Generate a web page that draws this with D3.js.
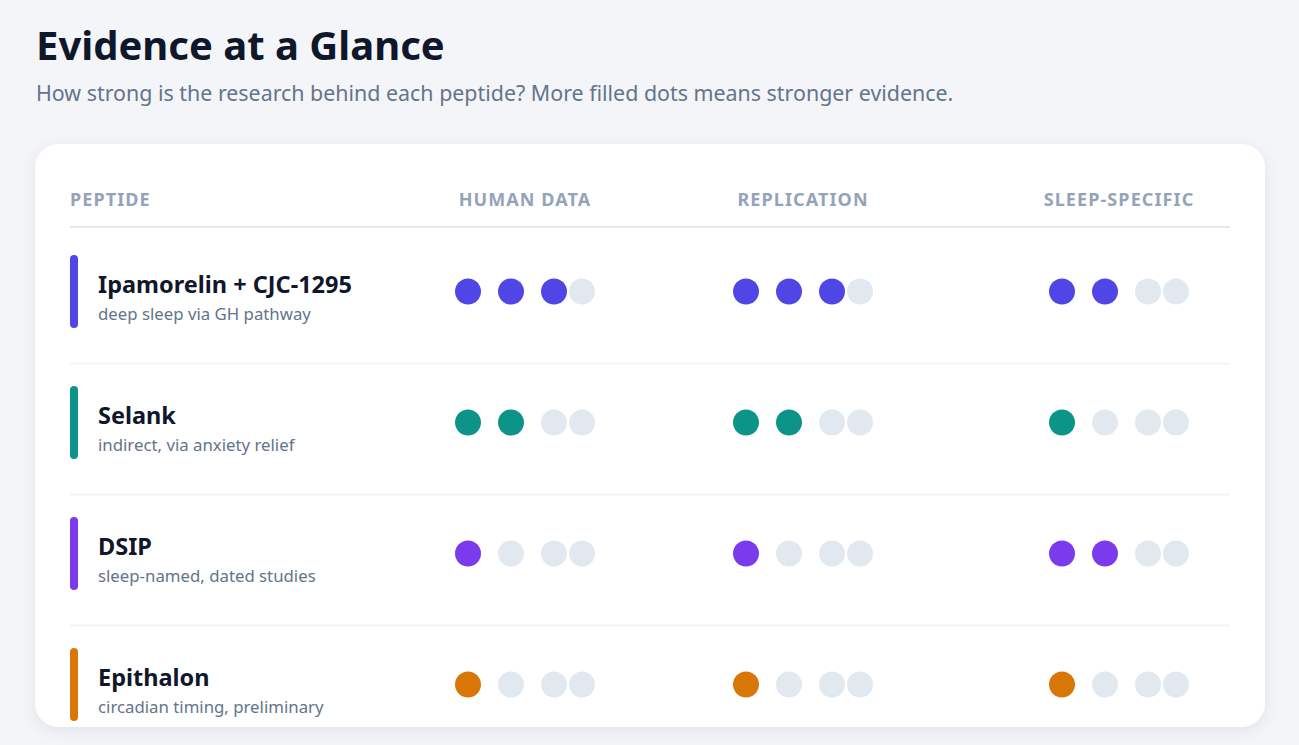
<!DOCTYPE html>
<html>
<head>
<meta charset="utf-8">
<script src="https://cdn.jsdelivr.net/npm/d3@7"></script>
<style>
  html, body { margin: 0; padding: 0; background: #f4f5f9; }
  svg { display: block; font-family: "Segoe UI", "Noto Sans", "Open Sans", sans-serif; }
</style>
</head>
<body>
<div class="canvas"></div>
<script>
// data
const peptides = ['Ipamorelin + CJC-1295', 'Selank', 'DSIP', 'Epithalon'];
const notes = ['deep sleep via GH pathway', 'indirect, via anxiety relief', 'sleep-named, dated studies', 'circadian timing, preliminary'];
const colors = ['#4f46e5', '#0d9488', '#7c3aed', '#d97706'];
const columns = ['HUMAN DATA', 'REPLICATION', 'SLEEP-SPECIFIC'];
const humanData = [3, 2, 1, 1];
const replication = [3, 2, 1, 1];
const sleepSpecific = [2, 1, 2, 1];
const maxDots = 4;

const scores = [humanData, replication, sleepSpecific];

const width = 1299, height = 745;

const svg = d3.select('.canvas')
  .append('svg')
  .attr('width', width)
  .attr('height', height);

const defs = svg.append('defs');
const shadow = defs.append('filter')
  .attr('id', 'shadow')
  .attr('x', '-10%').attr('y', '-10%')
  .attr('width', '120%').attr('height', '130%');
shadow.append('feDropShadow')
  .attr('dx', 0).attr('dy', 4)
  .attr('stdDeviation', 8)
  .attr('flood-color', '#0f172a')
  .attr('flood-opacity', 0.07);

// title
svg.append('text')
  .attr('x', 36).attr('y', 60)
  .attr('font-size', 40)
  .attr('font-weight', 700)
  .attr('fill', '#0f172a')
  .text('Evidence at a Glance');

svg.append('text')
  .attr('x', 36).attr('y', 101)
  .attr('font-size', 21.4)
  .attr('fill', '#64748b')
  .text('How strong is the research behind each peptide? More filled dots means stronger evidence.');

// card
const card = { x: 35, y: 144, w: 1230, h: 583 };
svg.append('rect')
  .attr('x', card.x).attr('y', card.y)
  .attr('width', card.w).attr('height', card.h)
  .attr('rx', 24)
  .attr('fill', '#fff')
  .attr('filter', 'url(#shadow)');

const tableLeft = 70, tableRight = 1230;

// scales
const colX = d3.scaleOrdinal()
  .domain(columns)
  .range([525, 803, 1119]);

const rowY = d3.scaleLinear()
  .domain([0, 1])
  .range([291.5, 422.5]);

// dot layout: 26px dots, 17px gap, last dot tucked against the third
const dotR = 13;
const dotX = i => i < 3 ? i * 43 : 2 * 43 + 28;
const groupW = dotX(maxDots - 1);

// header
const header = svg.append('g');
header.append('text')
  .attr('x', tableLeft).attr('y', 206)
  .attr('font-size', 18).attr('font-weight', 700)
  .attr('letter-spacing', 1.1)
  .attr('fill', '#94a3b8')
  .text('PEPTIDE');

header.selectAll('text.col')
  .data(columns)
  .enter()
  .append('text')
  .attr('class', 'col')
  .attr('x', d => colX(d))
  .attr('y', 206)
  .attr('text-anchor', 'middle')
  .attr('font-size', 18).attr('font-weight', 700)
  .attr('letter-spacing', 1.1)
  .attr('fill', '#94a3b8')
  .text(d => d);

header.append('rect')
  .attr('x', tableLeft).attr('y', 226)
  .attr('width', tableRight - tableLeft).attr('height', 2)
  .attr('fill', '#e2e8f0');

// rows
const rows = svg.selectAll('g.row')
  .data(peptides)
  .enter()
  .append('g')
  .attr('class', 'row')
  .attr('transform', (d, i) => `translate(0,${rowY(i)})`);

rows.filter((d, i) => i > 0)
  .append('rect')
  .attr('x', tableLeft).attr('y', -60)
  .attr('width', tableRight - tableLeft).attr('height', 2)
  .attr('fill', '#f1f5f9');

rows.append('rect')
  .attr('x', tableLeft).attr('y', -36.5)
  .attr('width', 8).attr('height', 73)
  .attr('rx', 4)
  .attr('fill', (d, i) => colors[i]);

rows.append('text')
  .attr('x', 98).attr('y', 1.5)
  .attr('font-size', 23.5).attr('font-weight', 700)
  .attr('fill', '#0f172a')
  .text(d => d);

rows.append('text')
  .attr('x', 98).attr('y', 28)
  .attr('font-size', 16.8)
  .attr('fill', '#64748b')
  .text((d, i) => notes[i]);

rows.each(function (d, i) {
  const row = d3.select(this);
  columns.forEach((col, c) => {
    const score = scores[c][i];
    const left = colX(col) - groupW / 2;
    row.append('g')
      .selectAll('circle')
      .data(d3.range(maxDots))
      .enter()
      .append('circle')
      .attr('cx', k => left + dotX(k))
      .attr('cy', 0)
      .attr('r', dotR)
      .attr('fill', k => k < score ? colors[i] : '#e2e8f0');
  });
});
</script>
</body>
</html>
